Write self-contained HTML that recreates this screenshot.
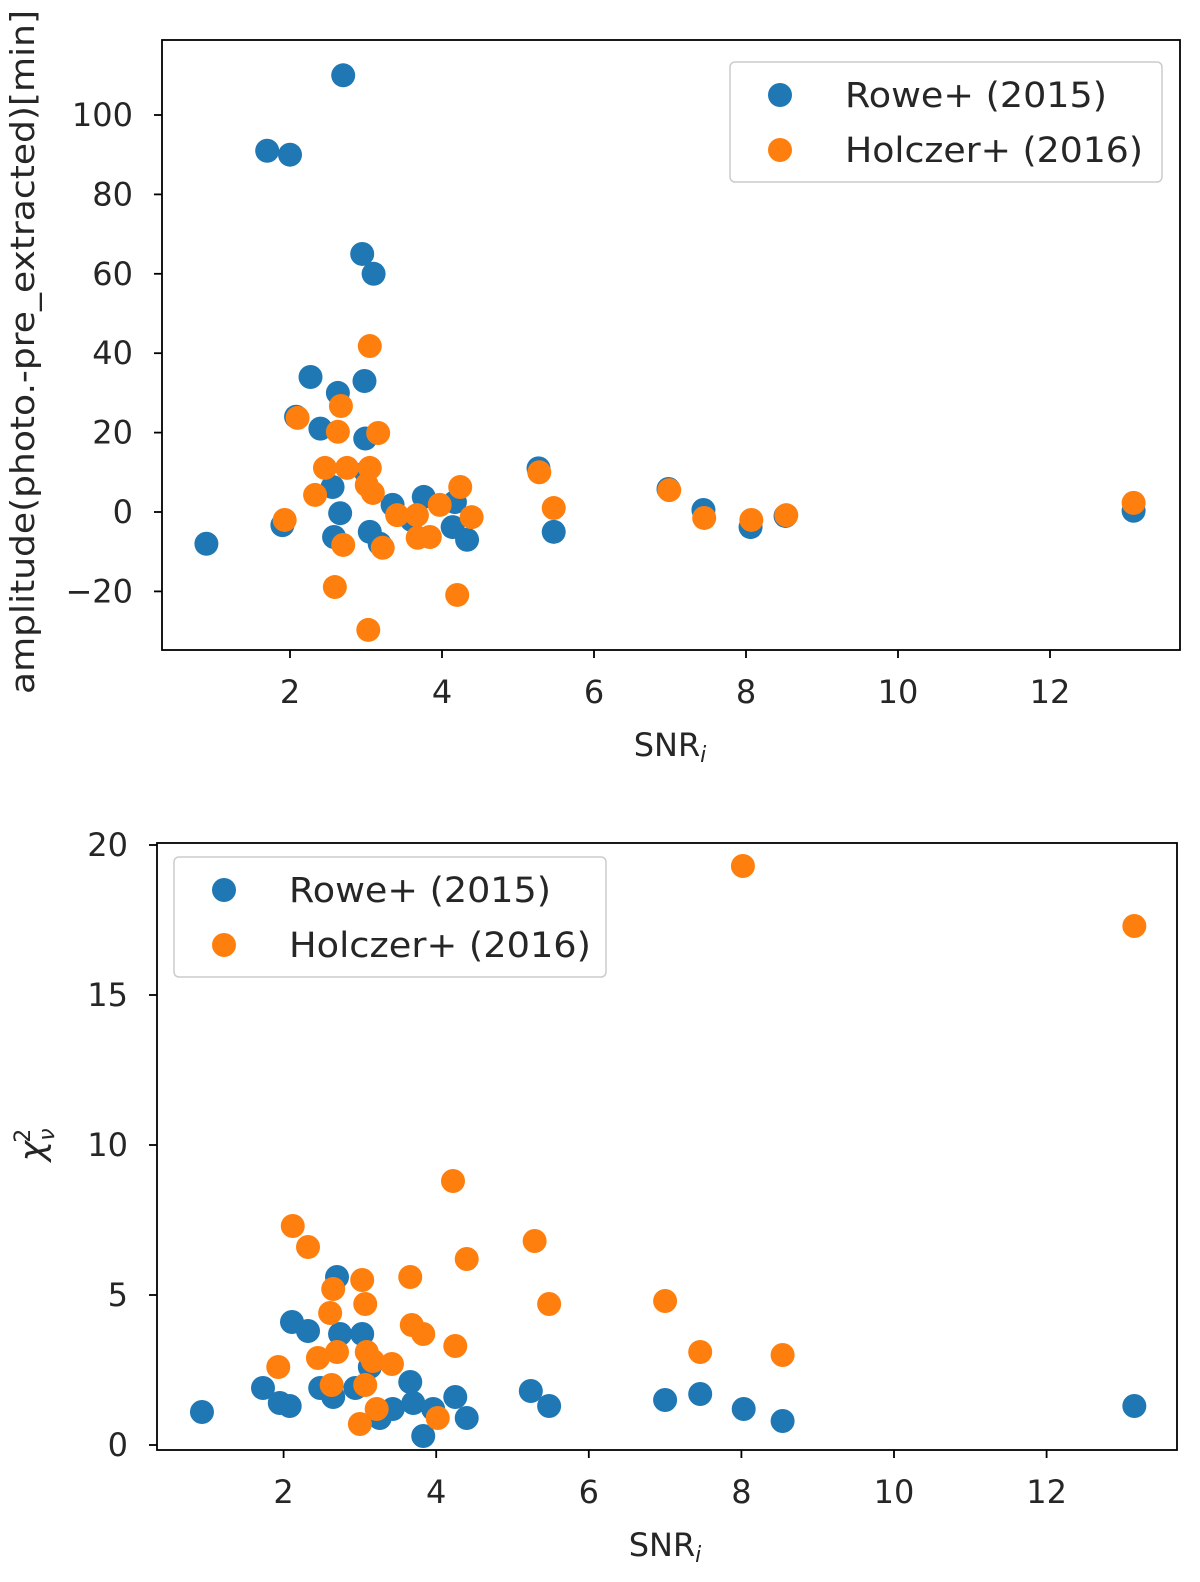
<!DOCTYPE html>
<html><head><meta charset="utf-8"><style>
body{margin:0;background:#fff}
svg{display:block;font-family:"DejaVu Sans","Liberation Sans",sans-serif}
</style></head><body>
<svg id="fig" width="1200" height="1582" viewBox="0 0 1200 1582"></svg>
<script>
const xTicks=[2,4,6,8,10,12];
const topYTicks=[-20,0,20,40,60,80,100];
const botYTicks=[0,5,10,15,20];
const seriesNames=["Rowe+ (2015)","Holczer+ (2016)"];
const topBlueX=[0.9,1.7,2.0,2.7,2.95,3.1,2.27,2.63,2.98,2.4,2.08,2.99,2.56,2.66,2.58,1.9,3.05,3.18,3.35,3.76,4.17,4.14,4.33,5.27,5.47,6.98,7.44,8.06,8.52,13.1,3.0,3.6];
const topBlueY=[-8,91,90,110,65,60,34,30,33,21,24,18.5,6.3,-0.3,-6.3,-3.3,-5,-8,1.8,3.8,2.5,-3.8,-7,11,-5,5.8,0.5,-3.8,-1,0.3,10,-2];
const topOrangeX=[3.05,2.1,2.67,2.63,3.16,2.46,2.75,3.05,2.33,3.01,3.09,1.93,2.7,3.22,3.41,3.67,3.97,4.24,4.39,3.68,3.84,2.59,4.2,3.03,5.28,5.47,6.99,7.45,8.07,8.53,13.1];
const topOrangeY=[41.8,23.7,26.7,20.2,19.9,11.1,11.1,11.1,4.3,6.8,4.8,-2,-8.3,-9,-0.8,-0.8,1.8,6.3,-1.3,-6.5,-6.3,-18.9,-20.9,-29.7,10,1,5.5,-1.5,-2,-0.8,2.3];
const botBlueX=[2.7,2.11,2.32,2.74,3.03,1.73,1.95,2.08,0.93,2.48,2.65,2.94,3.13,3.66,3.7,3.26,3.43,3.83,4.25,4.4,3.96,5.24,5.48,7.0,7.46,8.03,8.54,13.15];
const botBlueY=[5.6,4.1,3.8,3.7,3.7,1.9,1.4,1.3,1.1,1.9,1.6,1.9,2.6,2.1,1.4,0.9,1.2,0.3,1.6,0.9,1.2,1.8,1.3,1.5,1.7,1.2,0.8,1.3];
const botOrangeX=[4.22,2.12,2.32,4.4,3.66,3.03,2.65,3.07,2.61,3.68,3.83,4.25,2.45,2.7,3.09,3.17,3.42,1.93,2.63,3.07,3.22,3.0,4.02,5.29,5.48,7.0,7.46,8.02,8.54,13.15];
const botOrangeY=[8.8,7.3,6.6,6.2,5.6,5.5,5.2,4.7,4.4,4.0,3.7,3.3,2.9,3.1,3.1,2.8,2.7,2.6,2.0,2.0,1.2,0.7,0.9,6.8,4.7,4.8,3.1,19.3,3.0,17.3];

const NS="http://www.w3.org/2000/svg";
const svg=document.getElementById('fig');
function mk(tag,attrs,parent,txt){const e=document.createElementNS(NS,tag);for(const k in attrs)e.setAttribute(k,attrs[k]);if(txt!==undefined)e.textContent=txt;(parent||svg).appendChild(e);return e;}

function panel(cfg){
  const g=mk('g',{});
  
  
  const sx=v=>cfg.x0+v*cfg.kx, sy=v=>cfg.y0-v*cfg.ky;
  const pts=mk('g',{},g);
  
  
  const draw=(xs,ys,col,nm)=>{for(let i=0;i<xs.length;i++){const c=mk('circle',{cx:sx(xs[i]),cy:sy(ys[i]),r:12,fill:col},pts);
    
    }};
  draw(cfg.bx,cfg.by,'#1f77b4','point-rowe');
  draw(cfg.ox,cfg.oy,'#ff7f0e','point-holczer');
  const fr=mk('rect',{x:cfg.L,y:cfg.T,width:cfg.R-cfg.L,height:cfg.B-cfg.T,fill:'none',stroke:'#000','stroke-width':1.8},g);
  
  
  const xa=mk('g',{},g);
  
  
  xTicks.forEach(t=>{const x=sx(t);mk('line',{x1:x,x2:x,y1:cfg.B,y2:cfg.B+8,stroke:'#000','stroke-width':1.8},xa);
    const tx=mk('text',{x:x,y:cfg.B+53,'text-anchor':'middle','font-size':32,fill:'#262626'},xa,String(t));
    
    });
  const ya=mk('g',{},g);
  
  
  cfg.yt.forEach(t=>{const y=sy(t);mk('line',{x1:cfg.L-8,x2:cfg.L,y1:y,y2:y,stroke:'#000','stroke-width':1.8},ya);
    const tx=mk('text',{x:cfg.L-29,y:y+11,'text-anchor':'end','font-size':32,fill:'#262626'},ya,t<0?'\u2212'+(-t):String(t));
    
    });
  const xl=mk('text',{x:cfg.xlx,y:cfg.xly,'text-anchor':'middle','font-size':32,fill:'#262626'},g);
  
  
  mk('tspan',{},xl,'SNR');mk('tspan',{'font-size':22,dy:6,'font-style':'italic'},xl,'i');
  const lg=mk('g',{},g);
  
  
  mk('rect',{x:cfg.lx,y:cfg.ly,width:432,height:120,rx:5,fill:'#fff','fill-opacity':0.8,stroke:'#ccc','stroke-width':1.5},lg);
  [['#1f77b4',33],['#ff7f0e',88]].forEach((s,i)=>{
    const e=mk('g',{},lg);
    
    
    mk('circle',{cx:cfg.lx+50,cy:cfg.ly+s[1],r:12,fill:s[0]},e);
    mk('text',{x:cfg.lx+115,y:cfg.ly+s[1]+12,'font-size':35,fill:'#262626',textLength:cfg.tl[i],lengthAdjust:'spacingAndGlyphs'},e,seriesNames[i]);});
  return {g,sx,sy};
}
const p1=panel({name:'amplitude-panel',L:162,R:1180,T:40,B:650,x0:138,kx:76,y0:512,ky:3.97,yt:topYTicks,bx:topBlueX,by:topBlueY,ox:topOrangeX,oy:topOrangeY,xlx:670,xly:756,lx:730,ly:62,tl:[262,298]});
const yl1=mk('text',{x:0,y:0,'text-anchor':'middle','font-size':33,fill:'#262626',transform:'translate(34,352) rotate(-90)',textLength:684,lengthAdjust:'spacingAndGlyphs'},p1.g,'amplitude(photo.-pre_extracted)[min]');


const p2=panel({name:'chi2-panel',L:157,R:1177,T:843,B:1450,x0:131,kx:76.3,y0:1445,ky:30,yt:botYTicks,bx:botBlueX,by:botBlueY,ox:botOrangeX,oy:botOrangeY,xlx:665,xly:1556,lx:174,ly:857,tl:[262,302]});
const yl2=mk('text',{x:0,y:0,'text-anchor':'middle','font-size':35,fill:'#262626',transform:'translate(44,1145) rotate(-90)'},p2.g);


mk('tspan',{'font-style':'italic'},yl2,'\u03C7');
mk('tspan',{'font-size':22,dy:-14,dx:-2},yl2,'2');
mk('tspan',{'font-size':22,dy:24,dx:-12,'font-style':'italic'},yl2,'\u03BD');
</script>
</body></html>
